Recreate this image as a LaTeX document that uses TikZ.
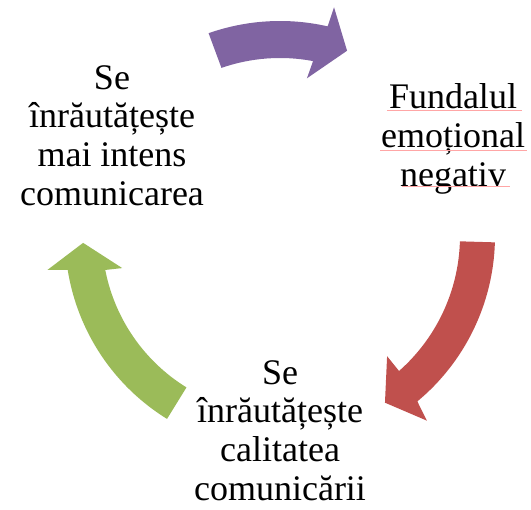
\documentclass[tikz,border=0pt]{standalone}
\usepackage{fontspec}
\setmainfont{Liberation Serif}
\usetikzlibrary{calc}

\definecolor{cycpurple}{HTML}{8064A2}
\definecolor{cycred}{HTML}{C0504D}
\definecolor{cycgreen}{HTML}{9BBB59}
\newcommand{\cycfont}{\fontsize{36}{38.7}\selectfont}

\begin{document}
\begin{tikzpicture}[x=1pt, y=1pt, every node/.style={align=center, font=\cycfont, inner sep=0pt, text=black}, bigarrow/.style={draw=none}, spellmark/.style={red!35, line width=0.6pt}]

    \useasboundingbox (0,0) rectangle (531,510);

    % Nodes
    \coordinate (cyc) at (280,274);
    \node (sebad) at (112,374.5) {Se\\înrăutățește\\mai intens\\comunicarea};
    \node (fundal) at (453,371) {Fundalul\\emoțional\\negativ};
    \node (calit) at (280,79.5) {Se\\înrăutățește\\calitatea\\comunicării};

    % Arrows round the cycle
    \begin{scope}[shift={(cyc)}]
        \fill[cycpurple, bigarrow] (109.4:215pt) arc[start angle=109.4, end angle=77.2, radius=215pt] -- (76.7:235pt) -- (70.1:197pt) -- (80.3:160pt) -- (79.3:178pt) arc[start angle=79.3, end angle=109.2, radius=178pt] -- cycle;
        \fill[cycred, bigarrow] (-1.7:215pt) arc[start angle=-1.7, end angle=-50.3, radius=215pt] -- (-51.5:236pt) -- (-57.8:197pt) -- (-48.3:161pt) -- (-48.6:180pt) arc[start angle=-48.6, end angle=-1.7, radius=180pt] -- cycle;
        \fill[cycgreen, bigarrow] (238.3:215pt) arc[start angle=238.3, end angle=189.1, radius=215pt] -- (188.3:235pt) -- (182:197pt) -- (191.5:161pt) -- (191:178pt) arc[start angle=191, end angle=238.3, radius=178pt] -- cycle;
    \end{scope}

    % Spelling marks under the right text
    \draw[spellmark] (387,399.3) -- (522,399.3);
    \draw[spellmark] (380,360) -- (527,360);
    \draw[spellmark] (402,323.3) -- (510,323.3);

\end{tikzpicture}
\end{document}
